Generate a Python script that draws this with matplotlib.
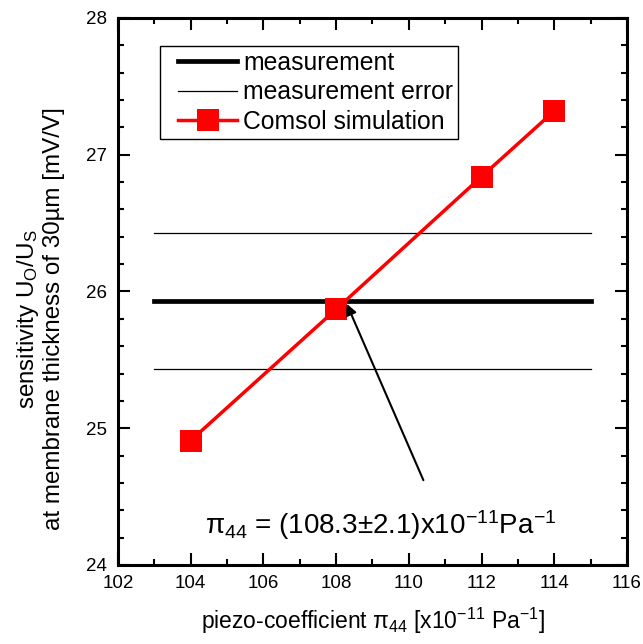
import numpy as np
import matplotlib
matplotlib.use('Agg')
import matplotlib.pyplot as plt
from matplotlib.ticker import MultipleLocator
from matplotlib.lines import Line2D
from matplotlib.legend_handler import HandlerLine2D

plt.rcParams['font.family'] = ['Liberation Sans', 'DejaVu Sans']
plt.rcParams['mathtext.fontset'] = 'custom'
plt.rcParams['mathtext.rm'] = 'Liberation Sans'
plt.rcParams['mathtext.it'] = 'Liberation Sans'

# data
pi44 = [104, 108, 112, 114]
sim_sens = [24.91, 25.87, 26.84, 27.32]
meas_x = [103, 115]
meas_val = 25.93
meas_err = 0.5

fig = plt.figure(figsize=(6.43, 6.44), dpi=100)
ax = fig.add_axes([0.1835, 0.1227, 0.7916, 0.8494])

ax.plot(meas_x, [meas_val, meas_val], 'k-', lw=3.4, label='measurement', zorder=2)
ax.plot(meas_x, [meas_val + meas_err] * 2, 'k-', lw=0.9, label='measurement error', zorder=2)
ax.plot(meas_x, [meas_val - meas_err] * 2, 'k-', lw=0.9, zorder=2)
ax.plot(pi44, sim_sens, '-', color='#ff0000', lw=2.5, marker='s', ms=15.6, mew=0,
        mfc='#ff0000', label='Comsol simulation', zorder=3)

ax.annotate('', xy=(108.29, 25.91), xytext=(110.4, 24.62),
            arrowprops=dict(arrowstyle='-|>', color='black', lw=1.5,
                            mutation_scale=16, shrinkA=0, shrinkB=0))
ax.text(104.39, 24.29, 'π$_{44}$ = (108.3±2.1)x10$^{-11}$Pa$^{-1}$',
        fontsize=20, va='center', ha='left')

ax.set_xlim(102, 116)
ax.set_ylim(24, 28)
ax.xaxis.set_major_locator(MultipleLocator(2))
ax.xaxis.set_minor_locator(MultipleLocator(1))
ax.yaxis.set_major_locator(MultipleLocator(1))
ax.yaxis.set_minor_locator(MultipleLocator(0.2))
ax.tick_params(which='both', direction='in', top=True, right=True, width=1.5)
ax.tick_params(which='major', length=8.5, labelsize=13.5)
ax.tick_params(axis='x', which='major', pad=7)
ax.tick_params(axis='y', which='major', pad=8)
ax.tick_params(which='minor', length=4.3)
for s in ax.spines.values():
    s.set_linewidth(2.2)

ax.set_xlabel('piezo-coefficient π$_{44}$ [x10$^{-11}$ Pa$^{-1}$]', fontsize=16.5, labelpad=10)
ax.set_ylabel('sensitivity U$_\\mathrm{O}$/U$_\\mathrm{S}$\nat membrane thickness of 30µm [mV/V]',
              fontsize=17.4, va='center', linespacing=1.15)
ax.yaxis.set_label_coords(-0.153, 0.45)

leg = ax.legend(loc='upper left', bbox_to_anchor=(0.0825, 0.949), fontsize=17.8,
                frameon=True, fancybox=False, edgecolor='black', framealpha=1,
                handlelength=2.92, handletextpad=0.25, borderpad=0.2, labelspacing=0.22,
                borderaxespad=0, handler_map={Line2D: HandlerLine2D(xpad=0.53)})
leg.get_frame().set_linewidth(1.0)

fig.savefig('out.png', dpi=100)
